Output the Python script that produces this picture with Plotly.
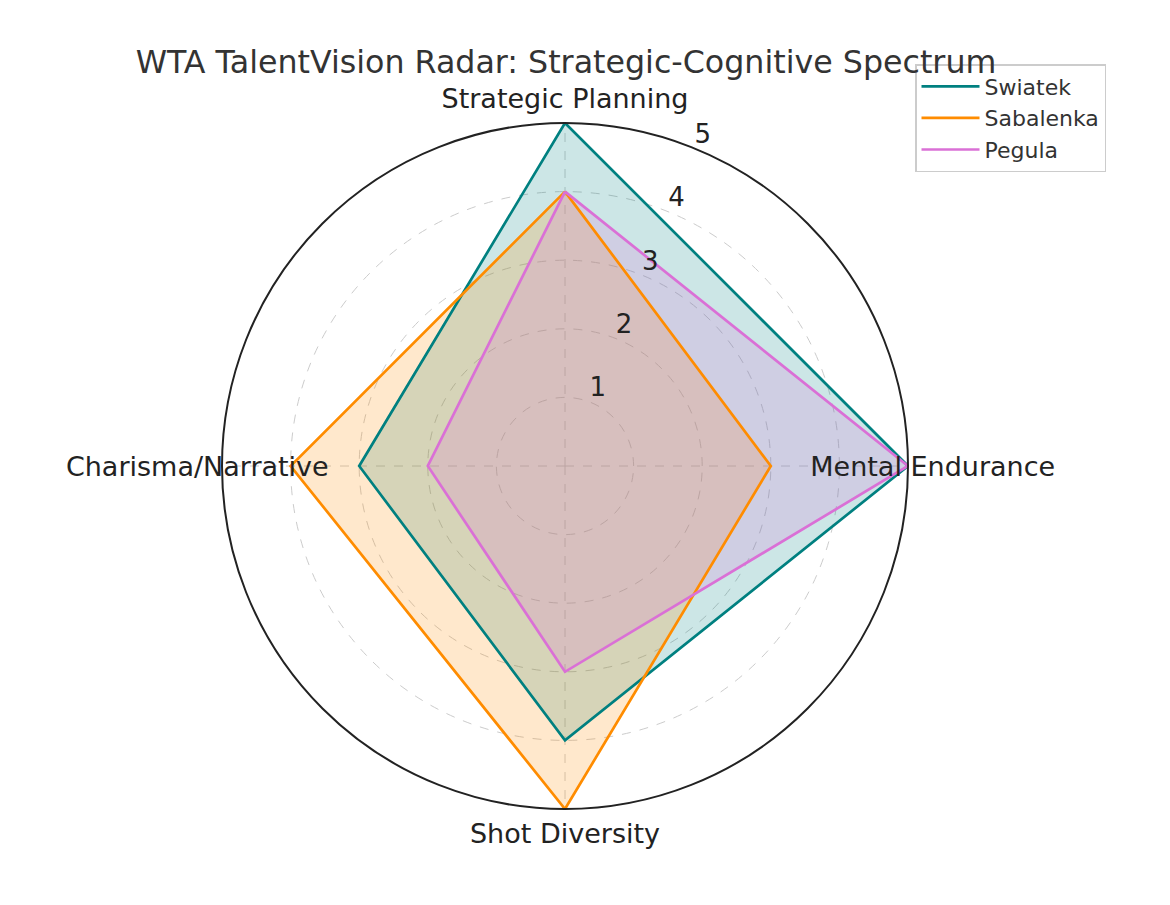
import plotly.graph_objects as go

categories = ["Strategic Planning", "Mental Endurance", "Shot Diversity", "Charisma/Narrative"]
players = ["Swiatek", "Sabalenka", "Pegula"]
swiatek = [5, 5, 4, 3]
sabalenka = [4, 3, 5, 4]
pegula = [4, 5, 3, 2]
radial_ticks = [1, 2, 3, 4, 5]
r_max = 5

series = [swiatek, sabalenka, pegula]
colors = ["#008080", "#FF8C00", "#DA70D6"]
fills = ["rgba(0,128,128,0.2)", "rgba(255,140,0,0.2)", "rgba(218,112,214,0.2)"]

W, H = 1162, 897            # page body adds an 8px margin
CX, CY, RAD = 557, 458, 343  # centre and outer radius of the radar, px
TEXT_DY = 3                  # small vertical nudge of the text overlay, px
LABEL_SCALE = 1.072          # category labels sit just outside the ring
R_OUT = r_max * LABEL_SCALE
RAD2 = RAD * LABEL_SCALE
TICK_ANGLE = 22.5            # radial tick labels, degrees clockwise from top
TICK_SHIFT = 0.25            # outward shift of radial tick labels (data units)

fig = go.Figure()
for name, vals, c, f in zip(players, series, colors, fills):
    fig.add_trace(go.Scatterpolar(
        r=vals + vals[:1], theta=categories + categories[:1],
        mode="lines", line=dict(color="rgba(0,0,0,0)", width=0),
        fill="toself", fillcolor=f, showlegend=False, hoverinfo="skip",
    ))
for name, vals, c, f in zip(players, series, colors, fills):
    fig.add_trace(go.Scatterpolar(
        r=vals + vals[:1], theta=categories + categories[:1],
        name=name, mode="lines", line=dict(color=c, width=2.7),
    ))

# overlay subplot (numeric angles) carrying the text labels
n = len(categories)
fig.add_trace(go.Scatterpolar(
    subplot="polar2",
    r=[R_OUT] * n, theta=[i * 360 / n for i in range(n)],
    mode="text", text=categories, textposition="middle center",
    textfont=dict(family="DejaVu Sans", size=27, color="#222222"),
    showlegend=False, hoverinfo="skip", cliponaxis=False,
))
fig.add_trace(go.Scatterpolar(
    subplot="polar2",
    r=[t + TICK_SHIFT for t in radial_ticks], theta=[TICK_ANGLE] * len(radial_ticks),
    mode="text", text=[str(t) for t in radial_ticks], textposition="middle center",
    textfont=dict(family="DejaVu Sans", size=26, color="#222222"),
    showlegend=False, hoverinfo="skip", cliponaxis=False,
))

cy2 = CY + TEXT_DY
fig.update_layout(
    width=W, height=H,
    paper_bgcolor="white",
    margin=dict(l=0, r=0, t=0, b=0),
    font=dict(family="DejaVu Sans", color="#222222"),
    title=dict(text="WTA TalentVision Radar: Strategic-Cognitive Spectrum",
               x=558/W, xanchor="center", y=1-54/H, yanchor="middle",
               font=dict(size=31.7, color="#333333")),
    polar=dict(
        domain=dict(x=[(CX-RAD)/W, (CX+RAD)/W], y=[1-(CY+RAD)/H, 1-(CY-RAD)/H]),
        bgcolor="white",
        angularaxis=dict(
            rotation=90, direction="clockwise",
            showline=True, linecolor="#222222", linewidth=2,
            gridcolor="#cccccc", griddash="dash", gridwidth=1,
            ticks="", showticklabels=False,
        ),
        radialaxis=dict(
            range=[0, r_max], tickvals=radial_ticks,
            showline=False, ticks="", showticklabels=False,
            gridcolor="#cccccc", griddash="dash", gridwidth=1,
        ),
    ),
    polar2=dict(
        domain=dict(x=[(CX-RAD2)/W, (CX+RAD2)/W], y=[1-(cy2+RAD2)/H, 1-(cy2-RAD2)/H]),
        bgcolor="rgba(0,0,0,0)",
        angularaxis=dict(rotation=90, direction="clockwise", showline=False,
                         showgrid=False, ticks="", showticklabels=False),
        radialaxis=dict(range=[0, R_OUT], showline=False, showgrid=False,
                        ticks="", showticklabels=False),
    ),
    legend=dict(
        x=1098/W, xanchor="right", y=1-56/H, yanchor="top",
        bgcolor="white", bordercolor="#cccccc", borderwidth=1.5,
        font=dict(size=22, color="#333333"),
        itemwidth=58,
    ),
    showlegend=True,
)

fig.write_html("out.html")
